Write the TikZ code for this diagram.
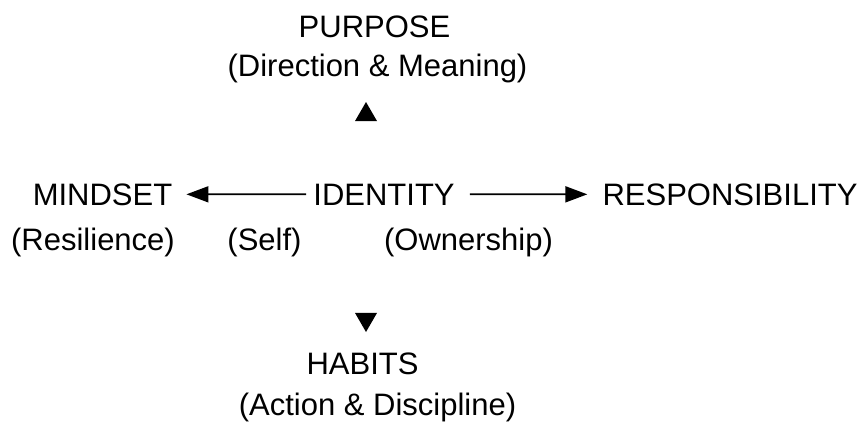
\documentclass[tikz,border=0pt]{standalone}
\usepackage{fontspec}
\setmainfont{Liberation Sans}
\usetikzlibrary{arrows.meta,shapes.geometric}

\begin{document}
\begin{tikzpicture}[x=1pt, y=-1pt,
	word/.style={inner sep=0pt, anchor=base, font=\fontsize{31}{36}\selectfont},
	link/.style={line width=1.8pt, -{Triangle[length=22pt,width=16pt]}},
	tip/.style={regular polygon, regular polygon sides=3, fill=black, inner sep=0pt, minimum size=25.4pt}]

	\useasboundingbox (0,0) rectangle (865,423);

	% top
	\node[word] (purpose) at (374.5,37) {PURPOSE};
	\node[word] (purposesub) at (377.5,76) {(Direction \& Meaning)};
	\node[tip] (up) at (366,114.7) {};

	% middle row
	\node[word] (mindset) at (102.5,205) {MINDSET};
	\node[word] (identity) at (384,205) {IDENTITY};
	\node[word] (resp) at (730,205) {RESPONSIBILITY};

	\node[word] (resil) at (93,250) {(Resilience)};
	\node[word] (self) at (264.5,250) {(Self)};
	\node[word] (owner) at (468.5,250) {(Ownership)};

	\draw[link, shorten <=7pt, shorten >=14pt] (identity) -- (mindset);
	\draw[link, shorten <=15pt, shorten >=15pt] (identity) -- (resp);

	% bottom
	\node[tip, shape border rotate=180] (down) at (366,319.3) {};
	\node[word] (habits) at (362.5,374) {HABITS};
	\node[word] (habitssub) at (377.5,415) {(Action \& Discipline)};

\end{tikzpicture}
\end{document}
